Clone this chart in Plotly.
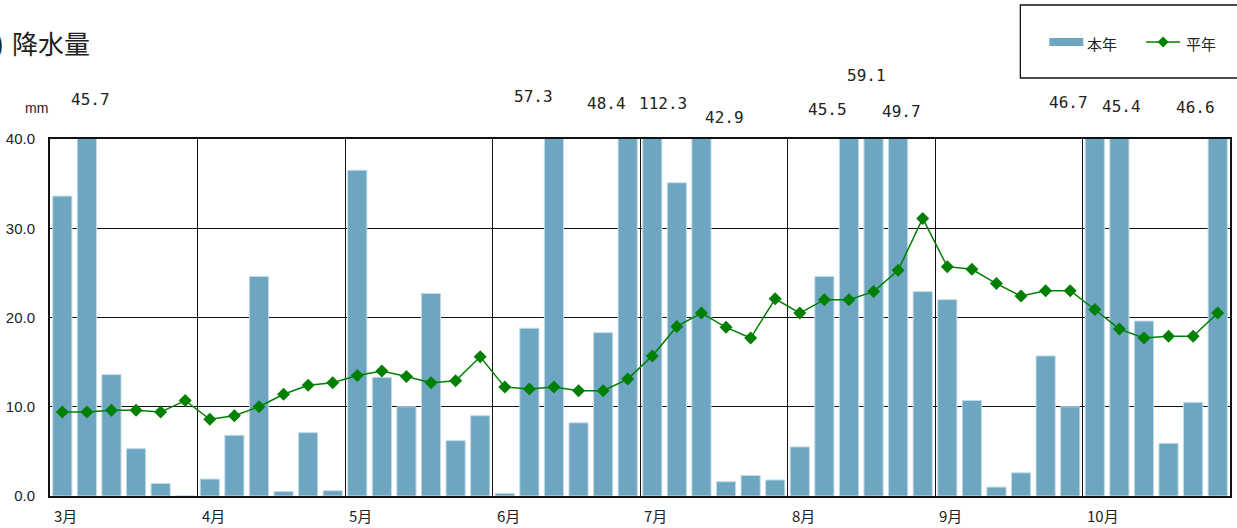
import plotly.graph_objects as go

# 半旬別降水量（3月〜10月、各月6半旬）
months = ["3月", "4月", "5月", "6月", "7月", "8月", "9月", "10月"]
this_year = [
    33.6, 45.7, 13.6, 5.3, 1.4, 0.0,
    1.9, 6.8, 24.6, 0.5, 7.1, 0.6,
    36.5, 13.3, 10.0, 22.7, 6.2, 9.0,
    0.3, 18.8, 57.3, 8.2, 18.3, 48.4,
    112.3, 35.1, 42.9, 1.6, 2.3, 1.8,
    5.5, 24.6, 45.5, 59.1, 49.7, 22.9,
    22.0, 10.7, 1.0, 2.6, 15.7, 10.0,
    46.7, 45.4, 19.6, 5.9, 10.5, 46.6,
]
normal_year = [
    9.4, 9.4, 9.6, 9.6, 9.4, 10.7,
    8.6, 9.0, 10.0, 11.4, 12.4, 12.7,
    13.5, 14.0, 13.4, 12.7, 12.9, 15.6,
    12.2, 12.0, 12.2, 11.8, 11.8, 13.1,
    15.7, 19.0, 20.5, 18.9, 17.7, 22.1,
    20.5, 22.0, 22.0, 22.9, 25.3, 31.1,
    25.7, 25.4, 23.8, 22.4, 23.0, 23.0,
    20.9, 18.7, 17.7, 17.9, 17.9, 20.5,
]
y_ticks = [0, 10, 20, 30, 40]

PER_MONTH = 6
Y_MAX = 40
BAR_COLOR = "#6ea6c1"
LINE_COLOR = "#008000"
W, H = 1237, 528
M_L, M_R, M_T, M_B = 50, 5, 139, 32
PLOT_W = W - M_L - M_R
PLOT_H = H - M_T - M_B


def px_x(p):
    return (p - M_L) / PLOT_W


def px_y(p):
    return (H - M_B - p) / PLOT_H


n = len(this_year)
xs = list(range(n))
boundaries = [k * PER_MONTH - 0.5 for k in range(len(months) + 1)]

fig = go.Figure()
fig.add_trace(go.Bar(
    x=xs, y=this_year, name="本年",
    marker=dict(color=BAR_COLOR, line=dict(color="#c3dce8", width=1)),
))
fig.add_trace(go.Scatter(
    x=xs, y=normal_year, name="平年", mode="lines+markers",
    line=dict(color=LINE_COLOR, width=1.5),
    marker=dict(symbol="diamond", size=10, color=LINE_COLOR),
))

annotations = []

# 軸上限を超える値のラベル（位置は重ならないよう個別に調整）
label_place = {
    1: (4, 100), 20: (-20, 96), 23: (-21, 104), 24: (11, 104),
    26: (23, 117), 32: (-21, 109), 33: (-7, 76), 34: (3, 111),
    42: (-26, 103), 43: (2, 106), 47: (-22, 107),
}
for i, v in enumerate(this_year):
    if v > Y_MAX:
        dx, ypix = label_place.get(i, (0, 105))
        annotations.append(dict(
            x=i, xref="x", y=px_y(ypix), yref="paper", xshift=dx,
            text=f"{v:.1f}", showarrow=False,
            font=dict(family="DejaVu Sans Mono", size=16, color="#222"),
            xanchor="center", yanchor="middle",
        ))

# 月ラベル
for k, m in enumerate(months):
    annotations.append(dict(
        x=boundaries[k], xref="x", y=0, yref="paper", xshift=2, yshift=-7,
        text=m, showarrow=False, xanchor="left", yanchor="top",
        font=dict(family="Noto Sans CJK JP", size=15, color="#222"),
    ))

# タイトルと単位
annotations += [
    dict(x=px_x(6), y=px_y(42), xref="paper", yref="paper", text="(2)",
         showarrow=False, xanchor="right", yanchor="middle",
         font=dict(family="Noto Sans CJK JP", size=26, color="#222")),
    dict(x=px_x(10), y=px_y(42), xref="paper", yref="paper", text="降水量",
         showarrow=False, xanchor="left", yanchor="middle",
         font=dict(family="Noto Sans CJK JP", size=26, color="#222")),
    dict(x=px_x(36), y=px_y(108), xref="paper", yref="paper", text="mm",
         showarrow=False, xanchor="center", yanchor="middle",
         font=dict(family="Liberation Sans", size=14, color="#222")),
]

# 凡例
leg_font = dict(family="Noto Sans CJK JP", size=15, color="#222")
annotations += [
    dict(x=px_x(1087), y=px_y(43), xref="paper", yref="paper", text="本年",
         showarrow=False, xanchor="left", yanchor="middle", font=leg_font),
    dict(x=px_x(1186), y=px_y(43), xref="paper", yref="paper", text="平年",
         showarrow=False, xanchor="left", yanchor="middle", font=leg_font),
]
cx, cy, r = 1165, 42, 5.5
diamond = (f"M {px_x(cx - r)} {px_y(cy)} L {px_x(cx)} {px_y(cy - r)} "
           f"L {px_x(cx + r)} {px_y(cy)} L {px_x(cx)} {px_y(cy + r)} Z")
shapes = [
    dict(type="rect", xref="paper", yref="paper",
         x0=px_x(1022), x1=px_x(1250), y0=px_y(5), y1=px_y(78),
         line=dict(color="#111", width=1.3), fillcolor="white", layer="above"),
    dict(type="rect", xref="paper", yref="paper",
         x0=px_x(1051), x1=px_x(1085), y0=px_y(38), y1=px_y(46),
         line=dict(width=0), fillcolor=BAR_COLOR, layer="above"),
    dict(type="line", xref="paper", yref="paper",
         x0=px_x(1148), x1=px_x(1182), y0=px_y(cy), y1=px_y(cy),
         line=dict(color=LINE_COLOR, width=1.5), layer="above"),
    dict(type="path", xref="paper", yref="paper", path=diamond,
         fillcolor=LINE_COLOR, line=dict(width=0), layer="above"),
]

fig.update_layout(
    width=W, height=H,
    margin=dict(l=M_L, r=M_R, t=M_T, b=M_B),
    plot_bgcolor="white", paper_bgcolor="white",
    showlegend=False, bargap=0.22,
    annotations=annotations, shapes=shapes,
    font=dict(family="Liberation Sans", color="#222"),
)
fig.update_xaxes(
    range=[-0.5, n - 0.5], tickvals=boundaries, showticklabels=False,
    showgrid=True, gridcolor="#111", gridwidth=1.4, ticks="",
    showline=True, linecolor="#111", linewidth=2, mirror=True,
    zeroline=False, layer="below traces",
)
fig.update_yaxes(
    range=[0, Y_MAX], tickvals=y_ticks, tickformat=".1f",
    tickfont=dict(family="Liberation Sans", size=15, color="#222"),
    showgrid=True, gridcolor="#111", gridwidth=1.4, ticks="",
    ticklabelstandoff=10,
    showline=True, linecolor="#111", linewidth=2, mirror=True,
    zeroline=False, layer="below traces",
)

fig.write_html("out.html")
